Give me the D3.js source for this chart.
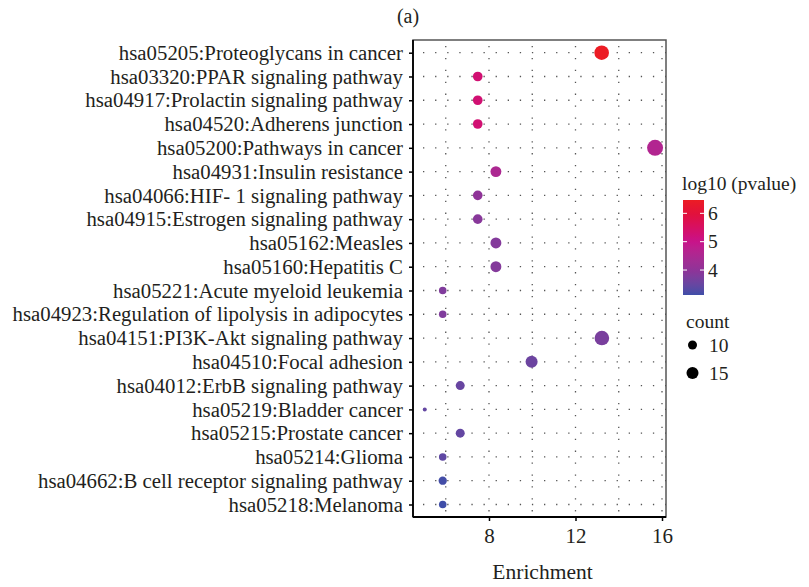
<!DOCTYPE html>
<html><head><meta charset="utf-8">
<script src="https://cdn.jsdelivr.net/npm/d3@7"></script>
<style>body{margin:0;background:#fff}</style>
</head><body>
<svg id="chart" width="809" height="587"></svg>
<script>
const categories = [
 "hsa05205:Proteoglycans in cancer",
 "hsa03320:PPAR signaling pathway",
 "hsa04917:Prolactin signaling pathway",
 "hsa04520:Adherens junction",
 "hsa05200:Pathways in cancer",
 "hsa04931:Insulin resistance",
 "hsa04066:HIF- 1 signaling pathway",
 "hsa04915:Estrogen signaling pathway",
 "hsa05162:Measles",
 "hsa05160:Hepatitis C",
 "hsa05221:Acute myeloid leukemia",
 "hsa04923:Regulation of lipolysis in adipocytes",
 "hsa04151:PI3K-Akt signaling pathway",
 "hsa04510:Focal adhesion",
 "hsa04012:ErbB signaling pathway",
 "hsa05219:Bladder cancer",
 "hsa05215:Prostate cancer",
 "hsa05214:Glioma",
 "hsa04662:B cell receptor signaling pathway",
 "hsa05218:Melanoma"
];
const enrichment = [13.21,7.48,7.48,7.48,15.68,8.32,7.48,7.48,8.32,8.32,5.86,5.86,13.22,9.97,6.67,5.03,6.67,5.86,5.86,5.86];
const counts     = [20,11,11,11,23,13,11,11,13,13,8,8,20,15,10,4,10,8,9,8];
const logp       = [6.47,5.3,5.3,5.3,4.6,4.5,4.0,3.9,3.85,3.85,3.8,3.8,3.7,3.55,3.5,3.45,3.45,3.4,3.15,3.12];
const xTicks = [8,12,16];
const xGrid = [6,8,10,12,14,16];
const colorTicks = [4,5,6];
const sizeBreaks = [10,15];

const svg = d3.select("#chart");
const font = "Liberation Serif, 'Times New Roman', serif";
const txt = "#231f20";
const L=413, R=666, T=40, B=517;

const x = d3.scaleLinear().domain([4.486,16.185]).range([L,R]);
const y = d3.scalePoint().domain(categories).range([52.7,504.5]);
const cMin=3.12, cMax=6.47;
const color = d3.scaleLinear().domain([3.12,4,5,6,6.47])
  .range(["#3f4ea8","#8f3398","#c8128a","#e2113a","#ec1c24"]).interpolate(d3.interpolateLab);
const rScale = d3.scaleLinear().domain([Math.sqrt(4),Math.sqrt(23)]).range([2,8]);
const r = c => rScale(Math.sqrt(c));

// title
svg.append("text").attr("x",408).attr("y",23).attr("text-anchor","middle")
  .attr("font-family",font).attr("font-size",20).attr("fill",txt).text("(a)");

// grid
const g = svg.append("g");
g.selectAll(".vg").data(xGrid).join("line")
  .attr("x1",d=>x(d)).attr("x2",d=>x(d)).attr("y1",T).attr("y2",B)
  .attr("stroke","#555").attr("stroke-width",1.3).attr("stroke-dasharray","1.3,10.6").attr("stroke-dashoffset",-6);
g.selectAll(".hg").data(categories).join("line")
  .attr("x1",L).attr("x2",R).attr("y1",d=>y(d)).attr("y2",d=>y(d))
  .attr("stroke","#555").attr("stroke-width",1.3).attr("stroke-dasharray","1.3,10.8").attr("stroke-dashoffset",-10);

// panel border
svg.append("rect").attr("x",L).attr("y",T).attr("width",R-L).attr("height",B-T)
  .attr("fill","none").attr("stroke","#555").attr("stroke-width",1.5);

// points
svg.append("g").selectAll("circle").data(categories).join("circle")
  .attr("cx",(d,i)=>x(enrichment[i])).attr("cy",d=>y(d))
  .attr("r",(d,i)=>r(counts[i])).attr("fill",(d,i)=>color(logp[i]));

// axes
const yAxis = svg.append("g").attr("transform",`translate(${L},0)`)
  .call(d3.axisLeft(y).tickSize(4).tickPadding(6));
yAxis.select(".domain").attr("stroke","#000").attr("stroke-width",1.8).attr("d",`M0,${T}V${B}`);
yAxis.selectAll(".tick line").attr("stroke","#000").attr("stroke-width",1.5);
yAxis.selectAll("text").attr("font-family",font).attr("font-size",20.8).attr("fill",txt);

const xAxis = svg.append("g").attr("transform",`translate(0,${B})`)
  .call(d3.axisBottom(x).tickValues(xTicks).tickSize(4).tickPadding(7));
xAxis.select(".domain").attr("stroke","#000").attr("stroke-width",1.8).attr("d",`M${L},0H${R}`);
xAxis.selectAll(".tick line").attr("stroke","#000").attr("stroke-width",1.5);
xAxis.selectAll("text").attr("font-family",font).attr("font-size",21).attr("fill",txt);

svg.append("text").attr("x",(L+R)/2+3).attr("y",579).attr("text-anchor","middle")
  .attr("font-family",font).attr("font-size",21.5).attr("fill",txt).text("Enrichment");

// color legend
const lg = svg.append("g");
lg.append("text").attr("x",682).attr("y",190).attr("font-family",font).attr("font-size",19.5).attr("fill",txt).text("log10 (pvalue)");
const cb = d3.scaleLinear().domain([cMin,cMax]).range([295,200]);
const defs = svg.append("defs");
const grad = defs.append("linearGradient").attr("id","cg").attr("x1",0).attr("y1",1).attr("x2",0).attr("y2",0);
d3.range(0,1.0001,0.05).forEach(t=>{
  grad.append("stop").attr("offset",t).attr("stop-color",color(cMin+t*(cMax-cMin)));
});
lg.append("rect").attr("x",683).attr("y",200).attr("width",21).attr("height",95).attr("fill","url(#cg)");
colorTicks.forEach(v=>{
  lg.append("line").attr("x1",683).attr("x2",687).attr("y1",cb(v)).attr("y2",cb(v)).attr("stroke","#fff").attr("stroke-width",1);
  lg.append("line").attr("x1",700).attr("x2",704).attr("y1",cb(v)).attr("y2",cb(v)).attr("stroke","#fff").attr("stroke-width",1);
});
lg.append("g").attr("transform","translate(704,0)")
  .call(d3.axisRight(cb).tickValues(colorTicks).tickFormat(d3.format("d")).tickSize(0).tickPadding(4))
  .call(s=>s.select(".domain").remove())
  .selectAll("text").attr("font-family",font).attr("font-size",19.5).attr("fill",txt);

// size legend
lg.append("text").attr("x",686).attr("y",328).attr("font-family",font).attr("font-size",19.5).attr("fill",txt).text("count");
const sy = d3.scalePoint().domain(sizeBreaks).range([345,373]);
sizeBreaks.forEach(v=>{
  lg.append("circle").attr("cx",692.5).attr("cy",sy(v)).attr("r",r(v)).attr("fill","#000");
  lg.append("text").attr("x",709).attr("y",sy(v)).attr("dy","0.35em").attr("font-family",font).attr("font-size",19.5).attr("fill",txt).text(v);
});
</script>
</body></html>
